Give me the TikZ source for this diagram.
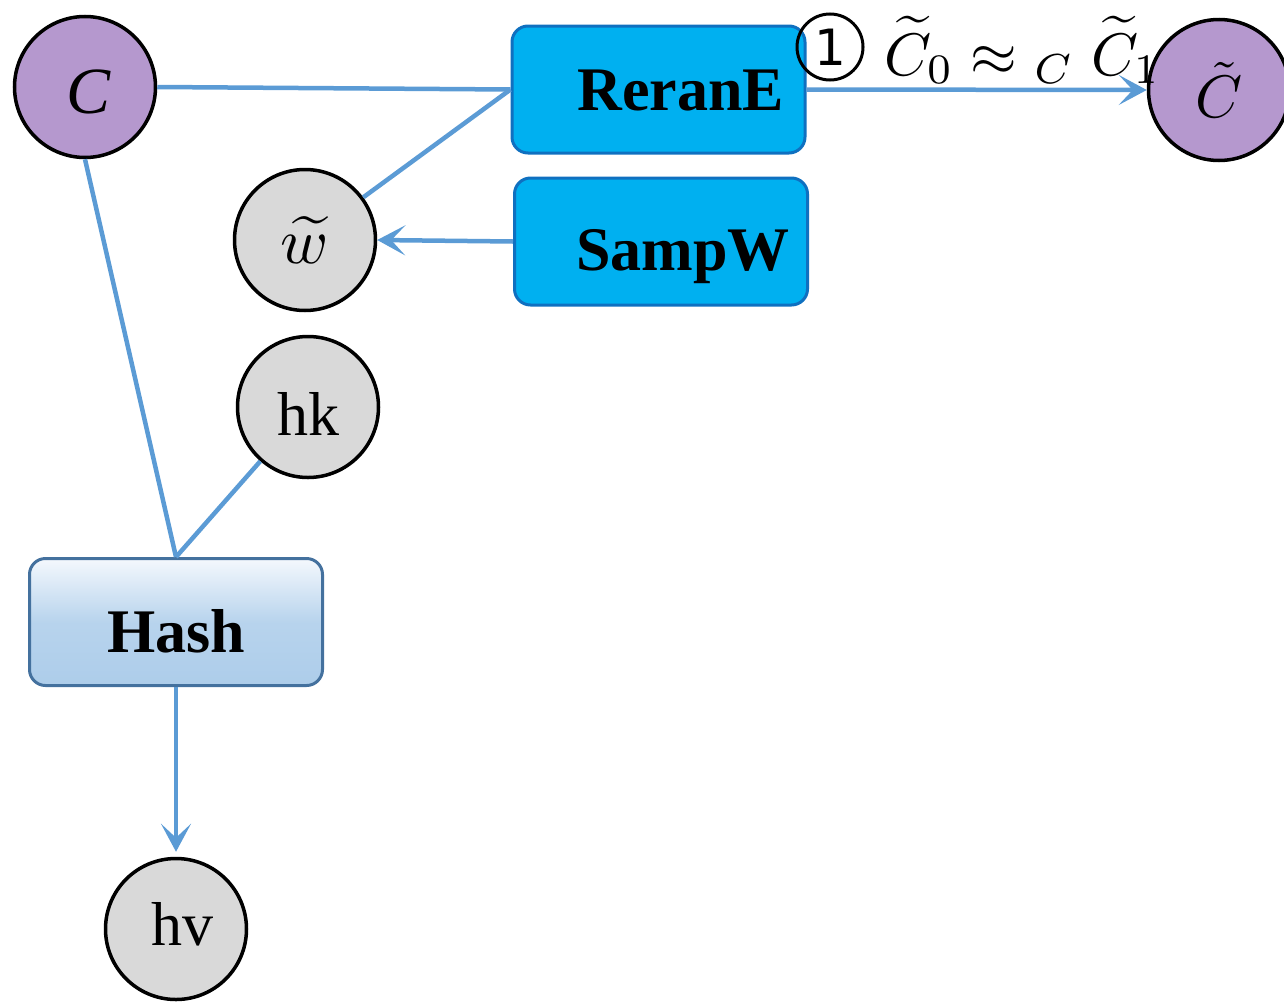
\documentclass[tikz,border=0pt]{standalone}
\usepackage{graphicx}
\usepackage{fontspec}
\setmainfont{Liberation Serif}
\setsansfont{DejaVu Sans}
\usetikzlibrary{arrows.meta,shapes.geometric}
\definecolor{purpnode}{HTML}{B598CE}
\definecolor{graynode}{HTML}{D9D9D9}
\definecolor{cyanbox}{HTML}{00B0F0}
\definecolor{cyanedge}{HTML}{0F70C0}
\definecolor{link}{HTML}{5B9BD5}
\definecolor{hashedge}{HTML}{44719E}
\definecolor{hashtop}{HTML}{F4F8FD}
\definecolor{hashbot}{HTML}{ADCDEA}
% math set at 10pt and enlarged, since the math fonts only come in fixed sizes
\newcommand{\bigmath}[2][6]{\scalebox{#1}{$#2$}}
\tikzset{
  % puts the text baseline #1 below the node centre
  baseline below/.style={text height=2*#1, text depth=0pt},
  ring/.style={circle, draw=black, line width=3.5pt, minimum size=141pt, inner sep=0pt},
  purpring/.style={ring, fill=purpnode},
  grayring/.style={ring, fill=graynode},
  procbox/.style={rectangle, rounded corners=16pt, draw=cyanedge, line width=3pt,
    fill=cyanbox, minimum width=293pt, minimum height=127pt, inner sep=0pt,
    font=\fontsize{62}{64}\selectfont\bfseries},
  hashbox/.style={rectangle, rounded corners=16pt, draw=hashedge, line width=3pt,
    top color=hashtop, bottom color=hashbot, middle color=hashbot!85!hashtop,
    minimum width=293pt, minimum height=127pt, inner sep=0pt,
    font=\fontsize{62}{64}\selectfont\bfseries},
  wire/.style={draw=link, line width=4.5pt},
  arrowwire/.style={wire, -{Stealth[length=28pt,width=30pt,inset=14pt]}},
  bigtext/.style={font=\fontsize{62}{64}\selectfont},
}
\begin{document}
\begin{tikzpicture}[x=1pt,y=-1pt]
\useasboundingbox (0,0) rectangle (1284,1001);

% variable nodes
\node[purpring, font=\fontsize{66}{68}\selectfont, baseline below=26pt] (C) at (85,87) {\hspace*{8pt}\itshape C};
\node[purpring] (Ct) at (1219,90) {\raisebox{-8pt}{\bigmath{\tilde{C}}}};
\node[grayring] (w) at (305,240) {\bigmath[6.5]{\widetilde{w}}};
\node[grayring, bigtext, baseline below=28pt] (hk) at (308,407) {hk};
\node[grayring, bigtext, baseline below=16pt] (hv) at (176,929) {\hspace*{12pt}hv};

% process boxes
\node[procbox, baseline below=20.5pt] (rer) at (658.5,89.5) {\hspace*{45pt}ReranE};
\node[procbox, baseline below=28.5pt] (samp) at (661,241.5) {\hspace*{44pt}SampW};
\node[hashbox, baseline below=30pt] (hash) at (176,622) {Hash};

% connectors
\draw[wire] (C.east) -- (rer.west);
\draw[wire] (rer.west) -- (w);
\draw[arrowwire] (samp.west) -- (w.east);
\draw[arrowwire] (rer.east) -- (Ct.west);
\draw[wire] (C.south) -- (hash.north);
\draw[wire] (hk) -- (hash.north);
\draw[arrowwire] (hash.south) -- ([yshift=5pt]hv.north);

% relation label on the ReranE output
\node[circle, draw=black, line width=3pt, minimum size=66pt, inner sep=0pt,
      font=\sffamily\fontsize{50}{52}\selectfont] (one) at (830,47) {1};
\node[anchor=base west, inner sep=0pt] (rel) at (884,75)
  {\bigmath{\widetilde{C}_0\approx{}_{C}\;\widetilde{C}_1}};
\end{tikzpicture}
\end{document}
